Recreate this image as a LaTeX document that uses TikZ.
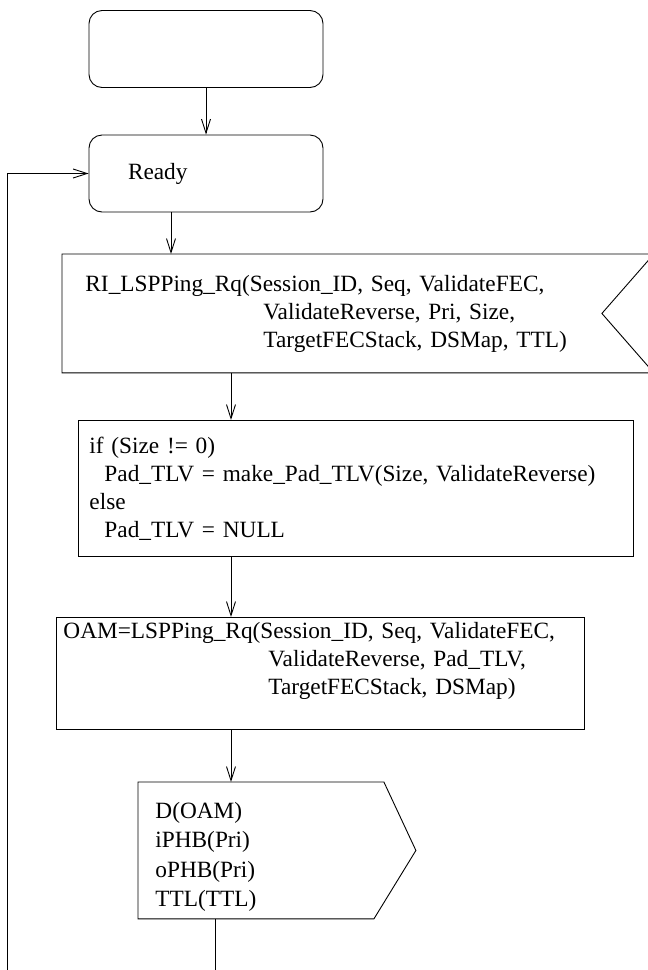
\documentclass[tikz,border=0pt]{standalone}
\usepackage{fontspec}
\setmainfont{Liberation Serif}
\usetikzlibrary{arrows.meta,calc}

\begin{document}
\begin{tikzpicture}[x=1pt, y=-1pt, line width=0.9pt,
    >={Straight Barb[length=14pt,width=9pt]},
    every node/.style={font=\fontsize{23.3}{28}\selectfont},
    state/.style={draw, rounded corners=13pt, minimum width=234pt, minimum height=77pt, inner sep=0pt},
    task/.style={align=left, anchor=north west, inner ysep=0pt},
    box/.style={task, draw},
    flow/.style={->}]
    \useasboundingbox (0,0) rectangle (648,970);
    \clip (0,0) rectangle (648,970);

    \node[state] (start) at (206,49) {};
    \node[state, text width=156pt, align=left, inner xsep=39pt] (ready) at (206,173.5) {Ready};

    \node[task, minimum width=591pt, minimum height=118pt, text width=545pt, inner xsep=23pt] (rirq) at (62,254)
        {RI\_LSPPing\_Rq(Session\_ID, Seq, ValidateFEC,\\
         \hspace*{178pt}ValidateReverse, Pri, Size,\\
         \hspace*{178pt}TargetFECStack, DSMap, TTL)};
    \draw (rirq.north west) -- (rirq.north east) -- ($(rirq.east)+(-52,0)$)
        -- (rirq.south east) -- (rirq.south west) -- cycle;

    \node[box, minimum width=555pt, minimum height=136pt, text width=533pt, inner xsep=11pt] (ifbox) at (78,420)
        {if (Size != 0)\\
         \hspace*{15pt}Pad\_TLV = make\_Pad\_TLV(Size, ValidateReverse)\\
         else\\
         \hspace*{15pt}Pad\_TLV = NULL};

    \node[box, minimum width=528pt, minimum height=112pt, text width=514pt, inner xsep=7pt] (oam) at (56,617)
        {OAM=LSPPing\_Rq(Session\_ID, Seq, ValidateFEC,\\
         \hspace*{205pt}ValidateReverse, Pad\_TLV,\\
         \hspace*{205pt}TargetFECStack, DSMap)\rule[-30pt]{0pt}{0pt}};

    \node[task, minimum width=277pt, minimum height=136pt, text width=243pt, inner xsep=17pt,
          font=\fontsize{23.3}{29.5}\selectfont] (out) at (138,782)
        {\rule{0pt}{29pt}D(OAM)\\iPHB(Pri)\\oPHB(Pri)\\TTL(TTL)};
    \draw (out.north west) -- ($(out.north east)+(-32,0)$) -- (out.east)
        -- ($(out.south east)+(-42,0)$) -- (out.south west) -- cycle;

    \coordinate (loop) at (7,970);
    \coordinate (exit) at (215,970);

    \draw[flow] (start.south) -- (ready.north);
    \draw[flow] (loop) |- (ready.west);
    \draw[flow] ($(ready.south)+(-35,0)$) coordinate (r1) -- (r1 |- rirq.north);
    \draw[flow] ($(rirq.south west)+(169,0)$) coordinate (r2) -- (r2 |- ifbox.north);
    \draw[flow] ($(ifbox.south west)+(153,0)$) coordinate (i1) -- (i1 |- oam.north);
    \draw[flow] ($(oam.south west)+(175,0)$) coordinate (o1) -- (o1 |- out.north);
    \draw (exit |- out.south) -- (exit);
\end{tikzpicture}
\end{document}
